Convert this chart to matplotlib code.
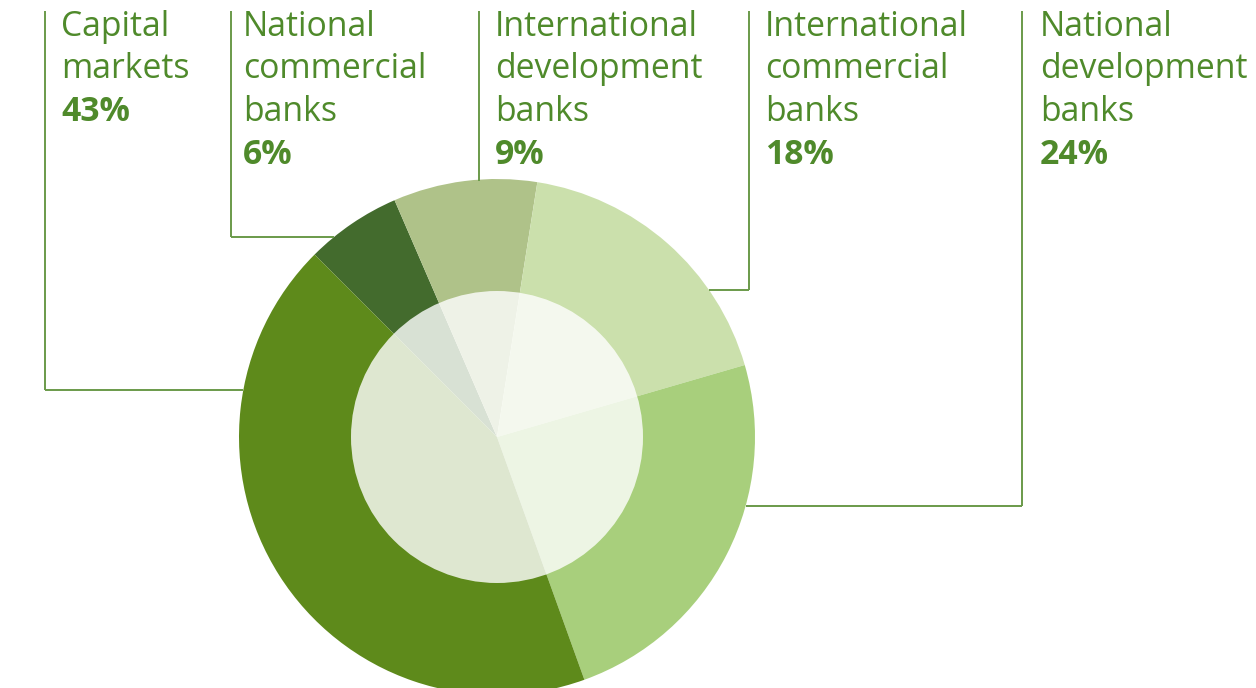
import math
import matplotlib
matplotlib.use("Agg")
import matplotlib.pyplot as plt
from matplotlib.patches import Circle

# Data
categories = ["National commercial banks", "International development banks",
              "International commercial banks", "National development banks",
              "Capital markets"]
shares = [6, 9, 18, 24, 43]
outer_colors = ["#436b2d", "#afc289", "#cbe0ac", "#a8cf7c", "#5e8a1b"]

# Label blocks (lines of text, percentage)
label_lines = {
    "Capital markets": ["Capital", "markets"],
    "National commercial banks": ["National", "commercial", "banks"],
    "International development banks": ["International", "development", "banks"],
    "International commercial banks": ["International", "commercial", "banks"],
    "National development banks": ["National", "development", "banks"],
}
label_order = ["Capital markets", "National commercial banks",
               "International development banks", "International commercial banks",
               "National development banks"]

W, H = 1256, 688
fig = plt.figure(figsize=(W / 100, H / 100), dpi=100)
ax = fig.add_axes([0, 0, 1, 1])

cx, cy = 497, H - 437
R = 258
r_in = 146

ax.pie(shares, colors=outer_colors, startangle=135, counterclock=False,
       radius=R, center=(cx, cy), wedgeprops=dict(linewidth=0),
       frame=True)
ax.set_xlim(0, W)
ax.set_ylim(0, H)
ax.set_aspect("equal")
ax.axis("off")
ax.add_patch(Circle((cx, cy), r_in, facecolor="white", alpha=0.8, linewidth=0, zorder=5))

text_color = "#4f8a2b"
line_color = "#6a9a4a"
lw = 1.4
font = "Open Sans"
fs = 24.3

text_x = [61, 243, 495, 765, 1040]
line_x = [45, 231, 479, 749, 1022]
line_bottom = [390, 237, None, 290, 506]   # None: runs straight down to the pie edge
baselines = [36, 78.5, 121, 163.5]
top = 11

for i, name in enumerate(label_order):
    lx = line_x[i]
    yb = line_bottom[i]
    if yb is None:
        ddx = abs(lx - cx)
        y_end = cy + math.sqrt(R * R - ddx * ddx) - 1
        ax.plot([lx, lx], [H - top, y_end], color=line_color, lw=lw, zorder=1,
                solid_capstyle="butt")
    else:
        ax.plot([lx, lx], [H - top, H - yb], color=line_color, lw=lw, zorder=10,
                solid_capstyle="butt")
        dy = abs((H - yb) - cy)
        dx = math.sqrt(R * R - dy * dy)
        edge_x = cx - dx if lx < cx else cx + dx
        ax.plot([lx, edge_x], [H - yb, H - yb], color=line_color, lw=lw,
                zorder=1, solid_capstyle="butt")
    lines = label_lines[name]
    for j, t in enumerate(lines):
        ax.text(text_x[i], H - baselines[j], t, fontsize=fs, family=font,
                color=text_color, va="baseline", ha="left")
    pct = shares[categories.index(name)]
    ax.text(text_x[i], H - baselines[len(lines)], f"{pct}%", fontsize=fs,
            family=font, fontweight="bold", color=text_color,
            va="baseline", ha="left")

fig.savefig("out.png", dpi=100)
